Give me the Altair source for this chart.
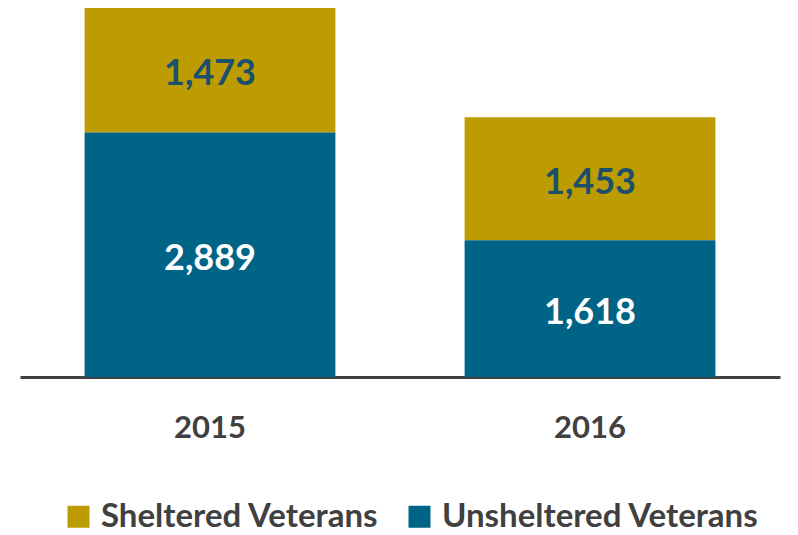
import altair as alt
import pandas as pd

years = ["2015", "2016"]
sheltered = [1473, 1453]
unsheltered = [2889, 1618]
series = ["Sheltered Veterans", "Unsheltered Veterans"]
colors = ["#BC9C00", "#006486"]
label_colors = ["#1B4F6B", "#FFFFFF"]

rows = []
for i, y in enumerate(years):
    rows.append({"year": y, "group": series[0], "value": sheltered[i], "ord": 1})
    rows.append({"year": y, "group": series[1], "value": unsheltered[i], "ord": 0})
df = pd.DataFrame(rows)

FONT = "Lato"

base = alt.Chart(df).transform_stack(
    stack="value", groupby=["year"], as_=["v0", "v1"], sort=[alt.SortField("ord", order="ascending")]
).transform_calculate(mid="(datum.v0 + datum.v1) / 2")

xenc = alt.X("year:N", title=None,
             scale=alt.Scale(paddingInner=0.34, paddingOuter=0.17),
             axis=alt.Axis(labelAngle=0, labelFontSize=31, labelFont=FONT, labelFontWeight="bold",
                           labelColor="#404040", labelPadding=36, ticks=False,
                           domainColor="#404040", domainWidth=3))
yscale = alt.Scale(domain=[0, 4362], nice=False)

bars = base.mark_bar().encode(
    x=xenc,
    y=alt.Y("v0:Q", scale=yscale, axis=None),
    y2="v1:Q",
    color=alt.Color("group:N", scale=alt.Scale(domain=series, range=colors),
                    legend=alt.Legend(title=None, orient="none", direction="horizontal",
                                      legendX=42, legendY=492, symbolType="square",
                                      symbolSize=484, symbolStrokeWidth=0, symbolOpacity=1,
                                      labelFontSize=33, labelFont=FONT, labelFontWeight="bold",
                                      labelColor="#404040", labelOffset=6, columnPadding=24,
                                      labelLimit=500)),
)

labels = base.mark_text(fontSize=36, font=FONT, fontWeight="bold", dy=4).encode(
    x=alt.X("year:N"),
    y=alt.Y("mid:Q", scale=yscale),
    text=alt.Text("value:Q", format=","),
    color=alt.Color("group:N", scale=alt.Scale(domain=series, range=label_colors), legend=None),
)

chart = alt.layer(bars, labels).resolve_scale(color="independent").properties(
    width=760, height=369,
    padding={"left": 12, "top": 0, "right": 10, "bottom": 157},
    autosize=alt.AutoSizeParams(type="none"),
).configure_view(stroke=None).configure_axis(grid=False)

chart.save("out.html", embed_options={"renderer": "svg", "actions": False})
